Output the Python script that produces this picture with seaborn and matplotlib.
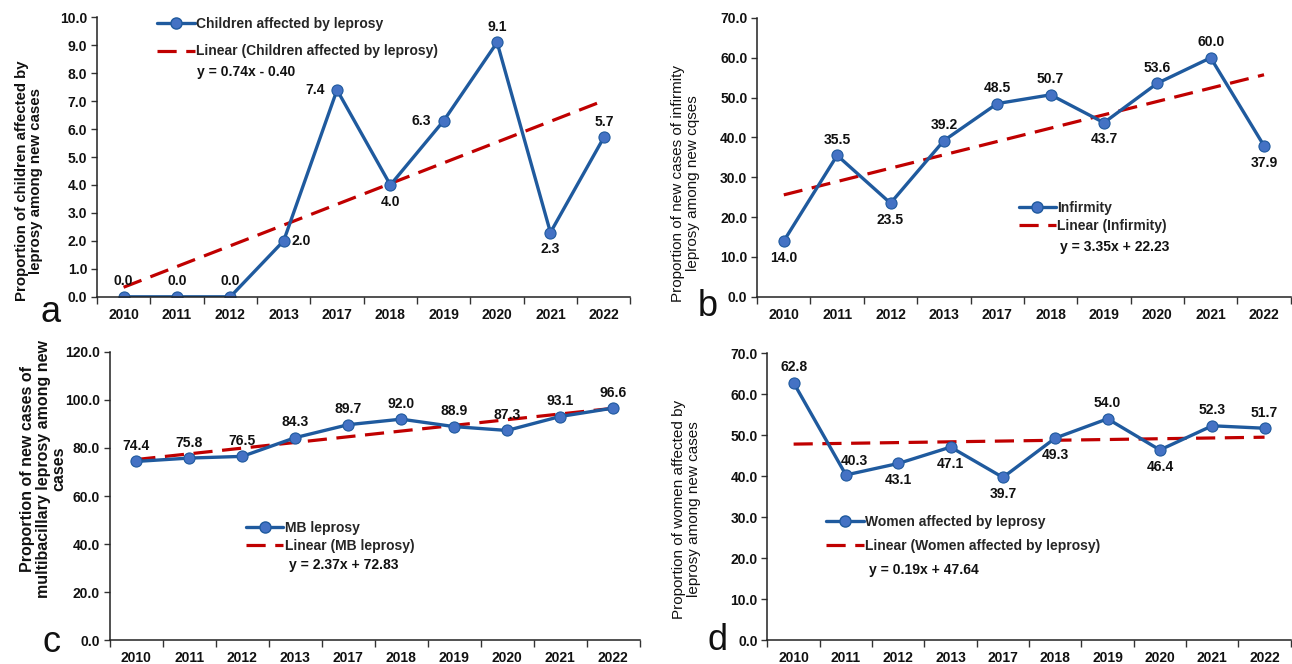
import matplotlib
matplotlib.use("Agg")
import matplotlib.pyplot as plt
import numpy as np
import pandas as pd
import seaborn as sns
from matplotlib.lines import Line2D

# data
years = ['2010', '2011', '2012', '2013', '2017', '2018', '2019', '2020', '2021', '2022']
children = [0.0, 0.0, 0.0, 2.0, 7.4, 4.0, 6.3, 9.1, 2.3, 5.7]
infirmity = [14.0, 35.5, 23.5, 39.2, 48.5, 50.7, 43.7, 53.6, 60.0, 37.9]
mb_leprosy = [74.4, 75.8, 76.5, 84.3, 89.7, 92.0, 88.9, 87.3, 93.1, 96.6]
women = [62.8, 40.3, 43.1, 47.1, 39.7, 49.3, 54.0, 46.4, 52.3, 51.7]

sns.set_theme(style='white')
plt.rcParams['font.family'] = ['Liberation Sans', 'DejaVu Sans']
plt.rcParams['font.weight'] = 'bold'

BLUE = '#1F5A9E'
MARK = '#4472C4'
RED = '#C00000'

panels = [
    dict(values=children, name='Children affected by leprosy', ymax=10.0, step=1.0,
         ylabel='Proportion of children affected by\nleprosy among new cases',
         ylab_style=(10.8, 'bold'),
         eq='y = 0.74x - 0.40', letter='a', rect=[0.075, 0.553, 0.413, 0.421],
         ylab_pos=(-0.127, 0.414), letter_pos=(-0.068, -0.057),
         leg=(0.113, 1.0), ls=0.95, eq_pos=(0.188, 0.804),
         place=['a', 'a', 'a', 'r', 'l', 'b', 'l', 'a', 'b', 'a']),
    dict(values=infirmity, name='Infirmity', ymax=70.0, step=10.0,
         ylabel='Proportion of new cases of infirmity\nleprosy among new cqses',
         ylab_style=(11, 'normal'),
         eq='y = 3.35x + 22.23', letter='b', rect=[0.586, 0.553, 0.413, 0.420],
         ylab_pos=(-0.134, 0.407), letter_pos=(-0.073, -0.036),
         leg=(0.49, 0.345), ls=0.3, eq_pos=(0.567, 0.179),
         place=['b', 'a', 'b', 'a', 'a', 'a', 'b', 'a', 'a', 'b']),
    dict(values=mb_leprosy, name='MB leprosy', ymax=120.0, step=20.0,
         ylabel='Proportion of new cases of\nmultibacillary leprosy among new\ncases',
         ylab_style=(11.5, 'bold'),
         eq='y = 2.37x + 72.83', letter='c', rect=[0.085, 0.036, 0.41, 0.434],
         ylab_pos=(-0.126, 0.594), letter_pos=(-0.094, -0.01),
         leg=(0.257, 0.415), ls=0.3, eq_pos=(0.338, 0.26),
         place=['a', 'a', 'a', 'a', 'a', 'a', 'a', 'a', 'a', 'a']),
    dict(values=women, name='Women affected by leprosy', ymax=70.0, step=10.0,
         ylabel='Proportion of women affected by\nleprosy among new cases',
         ylab_style=(11, 'normal'),
         eq='y = 0.19x + 47.64', letter='d', rect=[0.594, 0.036, 0.405, 0.432],
         ylab_pos=(-0.155, 0.456), letter_pos=(-0.076, 0.0),
         leg=(0.112, 0.436), ls=0.73, eq_pos=(0.194, 0.244),
         place=['a', 'ar', 'b', 'b', 'b', 'b', 'a', 'b', 'a', 'a']),
]

offsets = {'a': (0, 6, 'center', 'bottom'), 'b': (0, -7, 'center', 'top'),
           'l': (-9, 0, 'right', 'center'), 'r': (6, 0, 'left', 'center'),
           'ar': (6, 5, 'center', 'bottom')}

fig = plt.figure(figsize=(12.92, 6.64), dpi=100)

for p in panels:
    ax = fig.add_axes(p['rect'])
    df = pd.DataFrame({'x': np.arange(1, len(years) + 1), 'y': p['values']})

    # trendline (Excel-style linear fit over x = 1..n)
    sns.regplot(data=df, x='x', y='y', ax=ax, scatter=False, ci=None,
                line_kws=dict(color=RED, lw=2.3, dashes=(6, 3)))
    sns.lineplot(data=df, x='x', y='y', ax=ax, color=BLUE, lw=2.4,
                 marker='o', markersize=8, markerfacecolor=MARK,
                 markeredgecolor=BLUE, markeredgewidth=0.8)

    for xi, yi, pl in zip(df['x'], df['y'], p['place']):
        dx, dy, ha, va = offsets[pl]
        ax.annotate(f'{yi:.1f}', (xi, yi), xytext=(dx, dy), textcoords='offset points',
                    ha=ha, va=va, fontsize=10, fontweight='bold', color='#111111')

    ax.set_xlim(0.5, len(years) + 0.5)
    ax.set_ylim(0, p['ymax'])
    ax.set_yticks(np.arange(0, p['ymax'] + 0.01, p['step']))
    ax.set_yticklabels([f'{v:.1f}' for v in ax.get_yticks()])
    ax.set_xticks(df['x'])
    ax.set_xticklabels(years)
    ax.set_xticks(np.arange(0.5, len(years) + 1), minor=True)
    ax.tick_params(axis='x', which='major', length=0, pad=8, labelsize=10)
    ax.tick_params(axis='x', which='minor', length=5, width=1, color='#333333',
                   direction='out', bottom=True)
    ax.tick_params(axis='y', length=4, width=1, color='#333333', direction='out',
                   labelsize=10, pad=3, left=True)
    for lab in ax.get_xticklabels() + ax.get_yticklabels():
        lab.set_fontweight('bold')
        lab.set_color('#111111')
    sns.despine(ax=ax)
    for s in ['left', 'bottom']:
        ax.spines[s].set_color('#222222')
        ax.spines[s].set_linewidth(1.1)
    ax.set_xlabel('')
    size, weight = p['ylab_style']
    ax.set_ylabel(p['ylabel'], fontsize=size, fontweight=weight, color='#111111',
                  linespacing=1.05, va='center', ha='center')
    ax.yaxis.set_label_coords(*p['ylab_pos'])

    handles = [Line2D([], [], color=BLUE, lw=2.4, marker='o', markersize=8,
                      markerfacecolor=MARK, markeredgecolor=BLUE),
               Line2D([], [], color=RED, lw=2.3, dashes=(6, 3))]
    ax.legend(handles, [p['name'], f"Linear ({p['name']})"], loc='upper left',
              bbox_to_anchor=p['leg'], frameon=False,
              prop=dict(weight='bold', size=10), handlelength=2.7,
              handletextpad=0.1, labelspacing=p['ls'], borderpad=0, borderaxespad=0)
    ax.text(p['eq_pos'][0], p['eq_pos'][1], p['eq'], transform=ax.transAxes,
            ha='left', va='center', fontsize=10, fontweight='bold', color='#111111')
    ax.text(p['letter_pos'][0], p['letter_pos'][1], p['letter'], transform=ax.transAxes,
            ha='right', va='center', fontsize=26, fontweight='normal', color='#111111')

fig.savefig('out.png', dpi=100)
